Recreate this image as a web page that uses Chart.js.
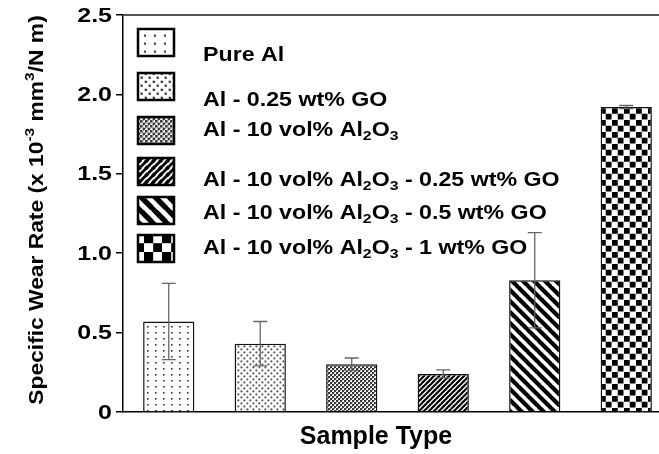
<!DOCTYPE html>
<html><head><meta charset="utf-8">
<script src="https://cdn.jsdelivr.net/npm/chart.js@4"></script>
<style>
html,body{margin:0;padding:0;overflow:hidden;background:#fff;width:659px;height:454px}
#wrap{position:relative;width:680px;height:454px}
</style></head>
<body><div id="wrap"><canvas id="c" width="680" height="454"></canvas></div>
<script>
// ---- data ----
const categories = [
  'Pure Al',
  'Al - 0.25 wt% GO',
  'Al - 10 vol% Al_2O_3',
  'Al - 10 vol% Al_2O_3 - 0.25 wt% GO',
  'Al - 10 vol% Al_2O_3 - 0.5 wt% GO',
  'Al - 10 vol% Al_2O_3 - 1 wt% GO'
];
const wearRate = [0.57, 0.43, 0.30, 0.24, 0.83, 1.92];
const wearRateError = [0.24, 0.14, 0.04, 0.025, 0.30, 0.01];
const yTicks = [0, 0.5, 1.0, 1.5, 2.0, 2.5];
const yTickLabels = ['0', '0.5', '1.0', '1.5', '2.0', '2.5'];
const yTitle = 'Specific Wear Rate (x 10^{-3} mm^{3}/N m)';
const xTitle = 'Sample Type';
const patternNames = ['sparseDots', 'denseDots', 'grid', 'fineStripes', 'wideStripes', 'checker'];

const FONT = '"Liberation Sans", Arial, sans-serif';

// ---- patterns ----
function makePattern(name, s) {
  const c = document.createElement('canvas');
  const g = c.getContext('2d');
  function size(w, h) { c.width = Math.round(w * s); c.height = Math.round(h * s); g.scale(s, s); g.fillStyle = '#fff'; g.fillRect(0, 0, w, h); }
  if (name === 'sparseDots') {
    size(8, 6); g.fillStyle = '#333'; g.fillRect(3, 2, 1.6, 1.6);
  } else if (name === 'denseDots') {
    size(6, 6); g.fillStyle = '#444'; g.fillRect(0.5, 0.5, 1.8, 1.8); g.fillRect(3.5, 3.5, 1.8, 1.8);
  } else if (name === 'grid') {
    size(4, 4); g.fillStyle = '#3a3a3a'; g.fillRect(0, 0, 2, 2); g.fillRect(2, 2, 2, 2);
    g.fillStyle = '#999'; g.fillRect(2, 0, 1, 1); g.fillRect(0, 2, 1, 1);
  } else if (name === 'fineStripes') {
    size(5, 5); g.strokeStyle = '#000'; g.lineWidth = 2.2;
    for (const o of [-5, 0, 5]) { g.beginPath(); g.moveTo(o - 1, 6); g.lineTo(o + 6, -1); g.stroke(); }
  } else if (name === 'wideStripes') {
    size(11, 11); g.strokeStyle = '#000'; g.lineWidth = 4.2;
    for (const o of [-11, 0, 11]) { g.beginPath(); g.moveTo(o - 1, -1); g.lineTo(o + 12, 12); g.stroke(); }
  } else if (name === 'checker') {
    size(11.5, 11.5); g.fillStyle = '#000'; g.fillRect(0, 0, 5.75, 5.75); g.fillRect(5.75, 5.75, 5.75, 5.75);
  }
  return g.createPattern(c, 'repeat');
}

// ---- rich text (sub/superscripts), horizontally stretched ----
function parseRich(str) {
  const segs = []; let i = 0, buf = '';
  while (i < str.length) {
    const ch = str[i];
    if ((ch === '_' || ch === '^') && i + 1 < str.length) {
      if (buf) { segs.push({ t: buf, k: 'n' }); buf = ''; }
      let t;
      if (str[i + 1] === '{') { const e = str.indexOf('}', i); t = str.slice(i + 2, e); i = e + 1; }
      else { t = str[i + 1]; i += 2; }
      segs.push({ t, k: ch === '_' ? 'sub' : 'sup' });
    } else { buf += ch; i++; }
  }
  if (buf) segs.push({ t: buf, k: 'n' });
  return segs;
}
function richWidth(g, segs, size) {
  let w = 0;
  for (const s of segs) { g.font = 'bold ' + (s.k === 'n' ? size : size * 0.68) + 'px ' + FONT; w += g.measureText(s.t).width; }
  return w;
}
function drawRich(g, segs, x, y, size, sx) {
  g.save();
  g.translate(x, y); g.scale(sx, 1);
  g.textBaseline = 'middle'; g.textAlign = 'left';
  let cx = 0;
  for (const s of segs) {
    const fs = s.k === 'n' ? size : size * 0.68;
    g.font = 'bold ' + fs + 'px ' + FONT;
    const dy = s.k === 'sub' ? size * 0.3 : s.k === 'sup' ? -size * 0.32 : 0;
    g.fillText(s.t, cx, dy);
    cx += g.measureText(s.t).width;
  }
  g.restore();
}

const ctx = document.getElementById('c').getContext('2d');
const barPatterns = patternNames.map(n => makePattern(n, 1));
const legendPatterns = patternNames.map((n, i) => makePattern(n, i === 5 ? 1.6 : 1.3));

const decorPlugin = {
  id: 'decor',
  afterDatasetsDraw(chart) {
    const g = chart.ctx, ys = chart.scales.y, meta = chart.getDatasetMeta(0);
    g.save();
    g.strokeStyle = '#666'; g.lineWidth = 1.3;
    meta.data.forEach((bar, i) => {
      const v = wearRate[i], e = wearRateError[i];
      const x = bar.x, yt = ys.getPixelForValue(v + e), yb = ys.getPixelForValue(v - e);
      g.beginPath();
      g.moveTo(x, yt); g.lineTo(x, yb);
      g.moveTo(x - 7, yt); g.lineTo(x + 7, yt);
      g.moveTo(x - 7, yb); g.lineTo(x + 7, yb);
      g.stroke();
    });
    g.restore();
  },
  afterDraw(chart) {
    const g = chart.ctx, a = chart.chartArea, ys = chart.scales.y;
    g.save();
    // top frame line
    g.strokeStyle = '#555'; g.lineWidth = 2;
    g.beginPath(); g.moveTo(a.left, a.top); g.lineTo(a.right, a.top); g.stroke();
    // y tick labels (stretched like the original)
    g.fillStyle = '#000';
    yTicks.forEach((v, i) => {
      g.save();
      g.translate(112, ys.getPixelForValue(v));
      g.scale(1.25, 1);
      g.font = 'bold 20px ' + FONT; g.textAlign = 'right'; g.textBaseline = 'middle';
      g.fillText(yTickLabels[i], 0, 1);
      g.restore();
    });
    // legend
    const boxTops = [29, 73, 117, 158, 197, 235];
    const textMid = [55, 100, 130, 180, 213, 248];
    categories.forEach((lab, i) => {
      g.fillStyle = legendPatterns[i];
      g.fillRect(138, boxTops[i], 36, 27);
      g.strokeStyle = '#000'; g.lineWidth = 2.5;
      g.strokeRect(138, boxTops[i], 36, 27);
      g.fillStyle = '#000';
      drawRich(g, parseRich(lab), 203, textMid[i], 20, 1.16);
    });
    // y title
    const ySegs = parseRich(yTitle);
    const yw = richWidth(g, ySegs, 20) * 1.14;
    g.save();
    g.translate(37, 210);
    g.rotate(-Math.PI / 2);
    g.fillStyle = '#000';
    drawRich(g, ySegs, -yw / 2, 0, 20, 1.14);
    g.restore();
    // x title
    g.font = 'bold 25px ' + FONT; g.textAlign = 'center'; g.textBaseline = 'middle';
    g.fillText(xTitle, 376, 437);
    g.restore();
  }
};

new Chart(ctx, {
  type: 'bar',
  data: {
    labels: categories,
    datasets: [{
      data: wearRate,
      backgroundColor: barPatterns,
      borderColor: '#111',
      borderWidth: 1.5,
      borderSkipped: 'bottom',
      barPercentage: 0.56,
      categoryPercentage: 1.0
    }]
  },
  options: {
    responsive: false,
    animation: false,
    devicePixelRatio: 1,
    layout: { padding: { top: 15, right: 8, bottom: 42, left: 0 } },
    plugins: { legend: { display: false }, tooltip: { enabled: false } },
    scales: {
      x: {
        offset: true,
        grid: { display: false, drawTicks: false },
        border: { display: true, color: '#000', width: 1.5 },
        ticks: { display: false },
        afterFit(s) { s.height = 0; }
      },
      y: {
        min: 0, max: 2.5,
        afterBuildTicks(s) { s.ticks = yTicks.map(v => ({ value: v })); },
        ticks: { display: false },
        grid: { drawOnChartArea: false, drawTicks: true, tickLength: 7, color: '#000', lineWidth: 1.5 },
        border: { display: true, color: '#000', width: 1.5 },
        afterFit(s) { s.width = 123; }
      }
    }
  },
  plugins: [decorPlugin]
});
</script>
</body></html>
